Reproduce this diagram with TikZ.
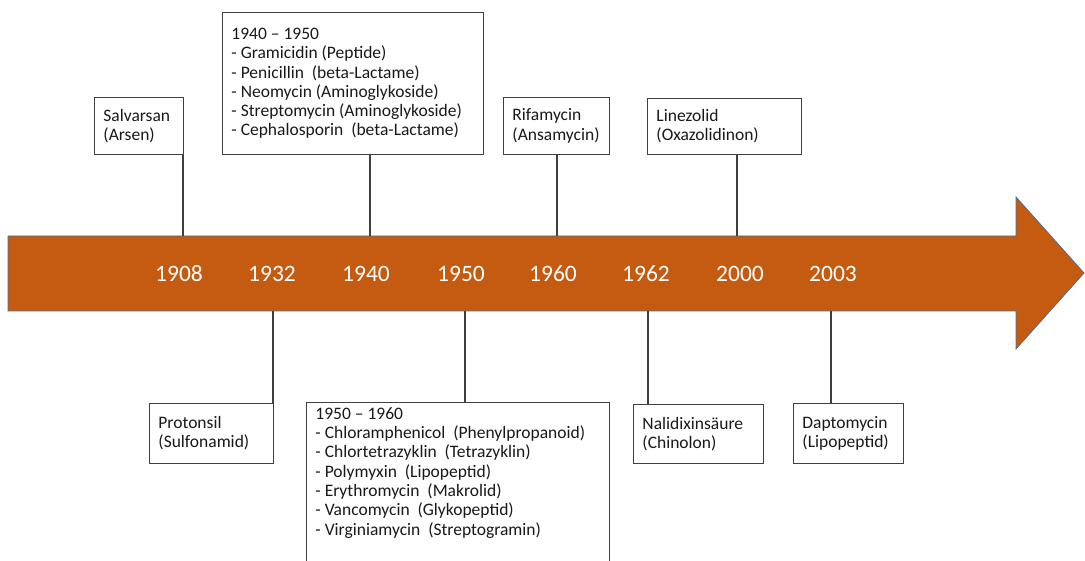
\documentclass[tikz,border=0pt]{standalone}
\usepackage{fontspec}
\setmainfont{Carlito}
\usepackage{tikz}
\usetikzlibrary{positioning}
\definecolor{TimeOrange}{HTML}{C55A11}
\definecolor{TimeEdge}{HTML}{41719C}
\definecolor{BoxGray}{HTML}{404040}

\begin{document}
\begin{tikzpicture}[x=1pt, y=-1pt,
  event/.style={rectangle, draw=BoxGray, line width=0.9pt, fill=white, anchor=north west,
    align=left, inner xsep=9pt, inner ysep=5pt, font=\fontsize{17.5}{19.3}\selectfont, text=black!90,
    execute at begin node={\spaceskip=0pt\xspaceskip=0pt}},
  year/.style={font=\fontsize{23.5}{27}\selectfont, text=white},
  tick/.style={draw=BoxGray, line width=1.2pt}
]
\useasboundingbox (0,0) rectangle (1085,561);
\clip (0,0) rectangle (1085,561);

% timeline arrow
\draw[fill=TimeOrange, draw=TimeEdge, line width=0.8pt]
  (8,236) -- (1016,236) -- (1016,197) -- (1084,273) -- (1016,349) -- (1016,311) -- (8,311) -- cycle;

\foreach \yr/\x in {1908/179, 1932/272, 1940/366, 1950/461, 1960/553, 1962/646, 2000/740, 2003/833}
  \node[year] (y\yr) at (\x,274) {\yr};

% tick points on the arrow edges
\coordinate (t1908) at (183,236);
\coordinate (t1940) at (370,236);
\coordinate (t1960) at (557,236);
\coordinate (t2000) at (737,236);
\coordinate (t1932) at (273,311);
\coordinate (t1950) at (465,311);
\coordinate (t1962) at (648,311);
\coordinate (t2003) at (831,311);

% events above
\node[event, text width=71pt, minimum height=57pt] (salv) at (94,97) {Salvarsan\\(Arsen)};
\node[event, text width=243pt, minimum height=142pt] (p1940) at (222,12)
  {1940 – 1950\\- Gramicidin (Peptide)\\- Penicillin\ \ (beta-Lactame)\\- Neomycin (Aminoglykoside)\\- Streptomycin (Aminoglykoside)\\- Cephalosporin\ \ (beta-Lactame)};
\node[event, text width=88pt, minimum height=57pt] (rifa) at (503,97) {Rifamycin\\(Ansamycin)};
\node[event, text width=136pt, minimum height=56pt] (line) at (647,98) {Linezolid\\(Oxazolidinon)};

% events below
\node[event, text width=106pt, minimum height=60pt] (proto) at (149,403) {Protonsil\\(Sulfonamid)};
\node[event, text width=285pt] (p1950) at (306,402)
  {1950 – 1960\\- Chloramphenicol\ \ (Phenylpropanoid)\\- Chlortetrazyklin\ \ (Tetrazyklin)\\- Polymyxin\ \ (Lipopeptid)\\- Erythromycin\ \ (Makrolid)\\- Vancomycin\ \ (Glykopeptid)\\- Virginiamycin\ \ (Streptogramin)\par\vspace*{60pt}};
\node[event, text width=112pt, minimum height=59pt] (nali) at (633,404) {Nalidixinsäure\\(Chinolon)};
\node[event, text width=92pt, minimum height=60pt] (dapto) at (793,403) {Daptomycin\\(Lipopeptid)};

% connectors
\draw[tick] (salv.south -| t1908) -- (t1908);
\draw[tick] (p1940.south -| t1940) -- (t1940);
\draw[tick] (rifa.south -| t1960) -- (t1960);
\draw[tick] (line.south -| t2000) -- (t2000);
\draw[tick] (t1932) -- (proto.north -| t1932);
\draw[tick] (t1950) -- (p1950.north -| t1950);
\draw[tick] (t1962) -- (nali.north -| t1962);
\draw[tick] (t2003) -- (dapto.north -| t2003);
\end{tikzpicture}
\end{document}
